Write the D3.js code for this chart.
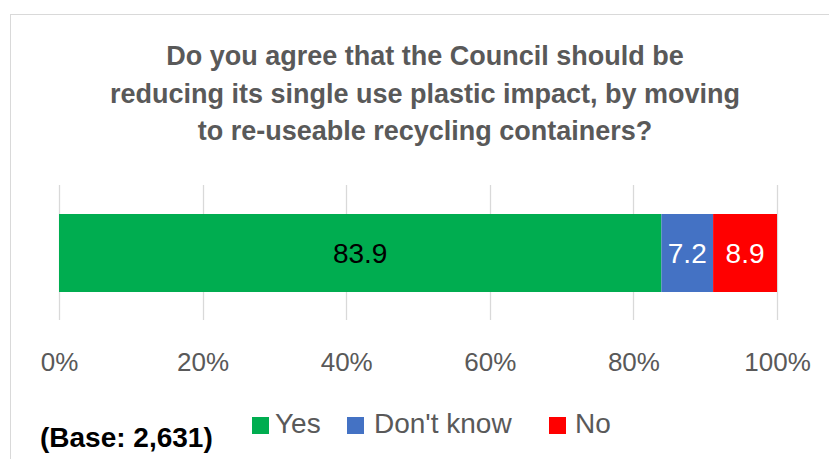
<!DOCTYPE html>
<html>
<head>
<meta charset="utf-8">
<script src="https://cdn.jsdelivr.net/npm/d3@7"></script>
<style>
  html, body { margin: 0; padding: 0; background: #ffffff; }
  svg { display: block; }
  text { font-family: "Liberation Sans", Arial, sans-serif; }
</style>
</head>
<body>
<svg id="chart" width="829" height="459"></svg>
<script>
const titleLines = [
  "Do you agree that the Council should be",
  "reducing its single use plastic impact, by moving",
  "to re-useable recycling containers?"
];
const categories = ["Yes", "Don't know", "No"];
const values = [83.9, 7.2, 8.9];
const colors = ["#00AD50", "#4472C4", "#FF0000"];
const labelColors = ["#000000", "#ffffff", "#ffffff"];
const tickValues = [0, 20, 40, 60, 80, 100];
const baseNote = "(Base: 2,631)";

const svg = d3.select("#chart");

// chart frame
svg.append("rect")
  .attr("x", 10.5).attr("y", 14.5)
  .attr("width", 840).attr("height", 470)
  .attr("fill", "#ffffff")
  .attr("stroke", "#d9d9d9").attr("stroke-width", 1);

// title
const title = svg.append("text")
  .attr("text-anchor", "middle")
  .attr("fill", "#595959")
  .attr("font-weight", "bold")
  .attr("font-size", 27);
titleLines.forEach((t, i) => {
  title.append("tspan").attr("x", 425).attr("y", 65 + i * 37.5).text(t);
});

const x = d3.scaleLinear().domain([0, 100]).range([59, 777]);

// gridlines
svg.append("g")
  .selectAll("line")
  .data(tickValues)
  .join("line")
  .attr("x1", d => Math.round(x(d)) + 0.5)
  .attr("x2", d => Math.round(x(d)) + 0.5)
  .attr("y1", 185).attr("y2", 320)
  .attr("stroke", "#d9d9d9").attr("stroke-width", 1.3);

// stacked data
let acc = 0;
const segs = values.map((v, i) => {
  const s = { cat: categories[i], v, x0: acc, x1: acc + v, color: colors[i], lc: labelColors[i] };
  acc += v;
  return s;
});

const barY = 214, barH = 78;
svg.append("g")
  .selectAll("rect")
  .data(segs)
  .join("rect")
  .attr("x", d => x(d.x0))
  .attr("width", d => x(d.x1) - x(d.x0))
  .attr("y", barY)
  .attr("height", barH)
  .attr("fill", d => d.color);

svg.append("g")
  .selectAll("text")
  .data(segs)
  .join("text")
  .attr("x", d => (x(d.x0) + x(d.x1)) / 2)
  .attr("y", barY + barH / 2)
  .attr("dy", "0.36em")
  .attr("text-anchor", "middle")
  .attr("font-size", 28)
  .attr("fill", d => d.lc)
  .text(d => d.v.toFixed(1));

// x axis
const axis = d3.axisBottom(x)
  .tickValues(tickValues)
  .tickFormat(d => d + "%")
  .tickSize(0)
  .tickPadding(0);
const ag = svg.append("g").attr("transform", "translate(0,352)").call(axis);
ag.select(".domain").remove();
ag.selectAll("text")
  .attr("font-size", 26)
  .attr("fill", "#595959")
  .attr("font-family", "Liberation Sans, Arial, sans-serif")
  .attr("dy", null)
  .attr("y", 19);

// legend
const legendPos = [
  { box: 252, text: 275 },
  { box: 347, text: 374 },
  { box: 549, text: 575 }
];
const lg = svg.append("g");
categories.forEach((c, i) => {
  lg.append("rect")
    .attr("x", legendPos[i].box).attr("y", 417)
    .attr("width", 17).attr("height", 17)
    .attr("fill", colors[i]);
  lg.append("text")
    .attr("x", legendPos[i].text).attr("y", 433)
    .attr("font-size", 28)
    .attr("fill", "#595959")
    .text(c);
});

// base note
svg.append("text")
  .attr("x", 40).attr("y", 447)
  .attr("font-size", 28)
  .attr("font-weight", "bold")
  .attr("fill", "#000000")
  .text(baseNote);
</script>
</body>
</html>
